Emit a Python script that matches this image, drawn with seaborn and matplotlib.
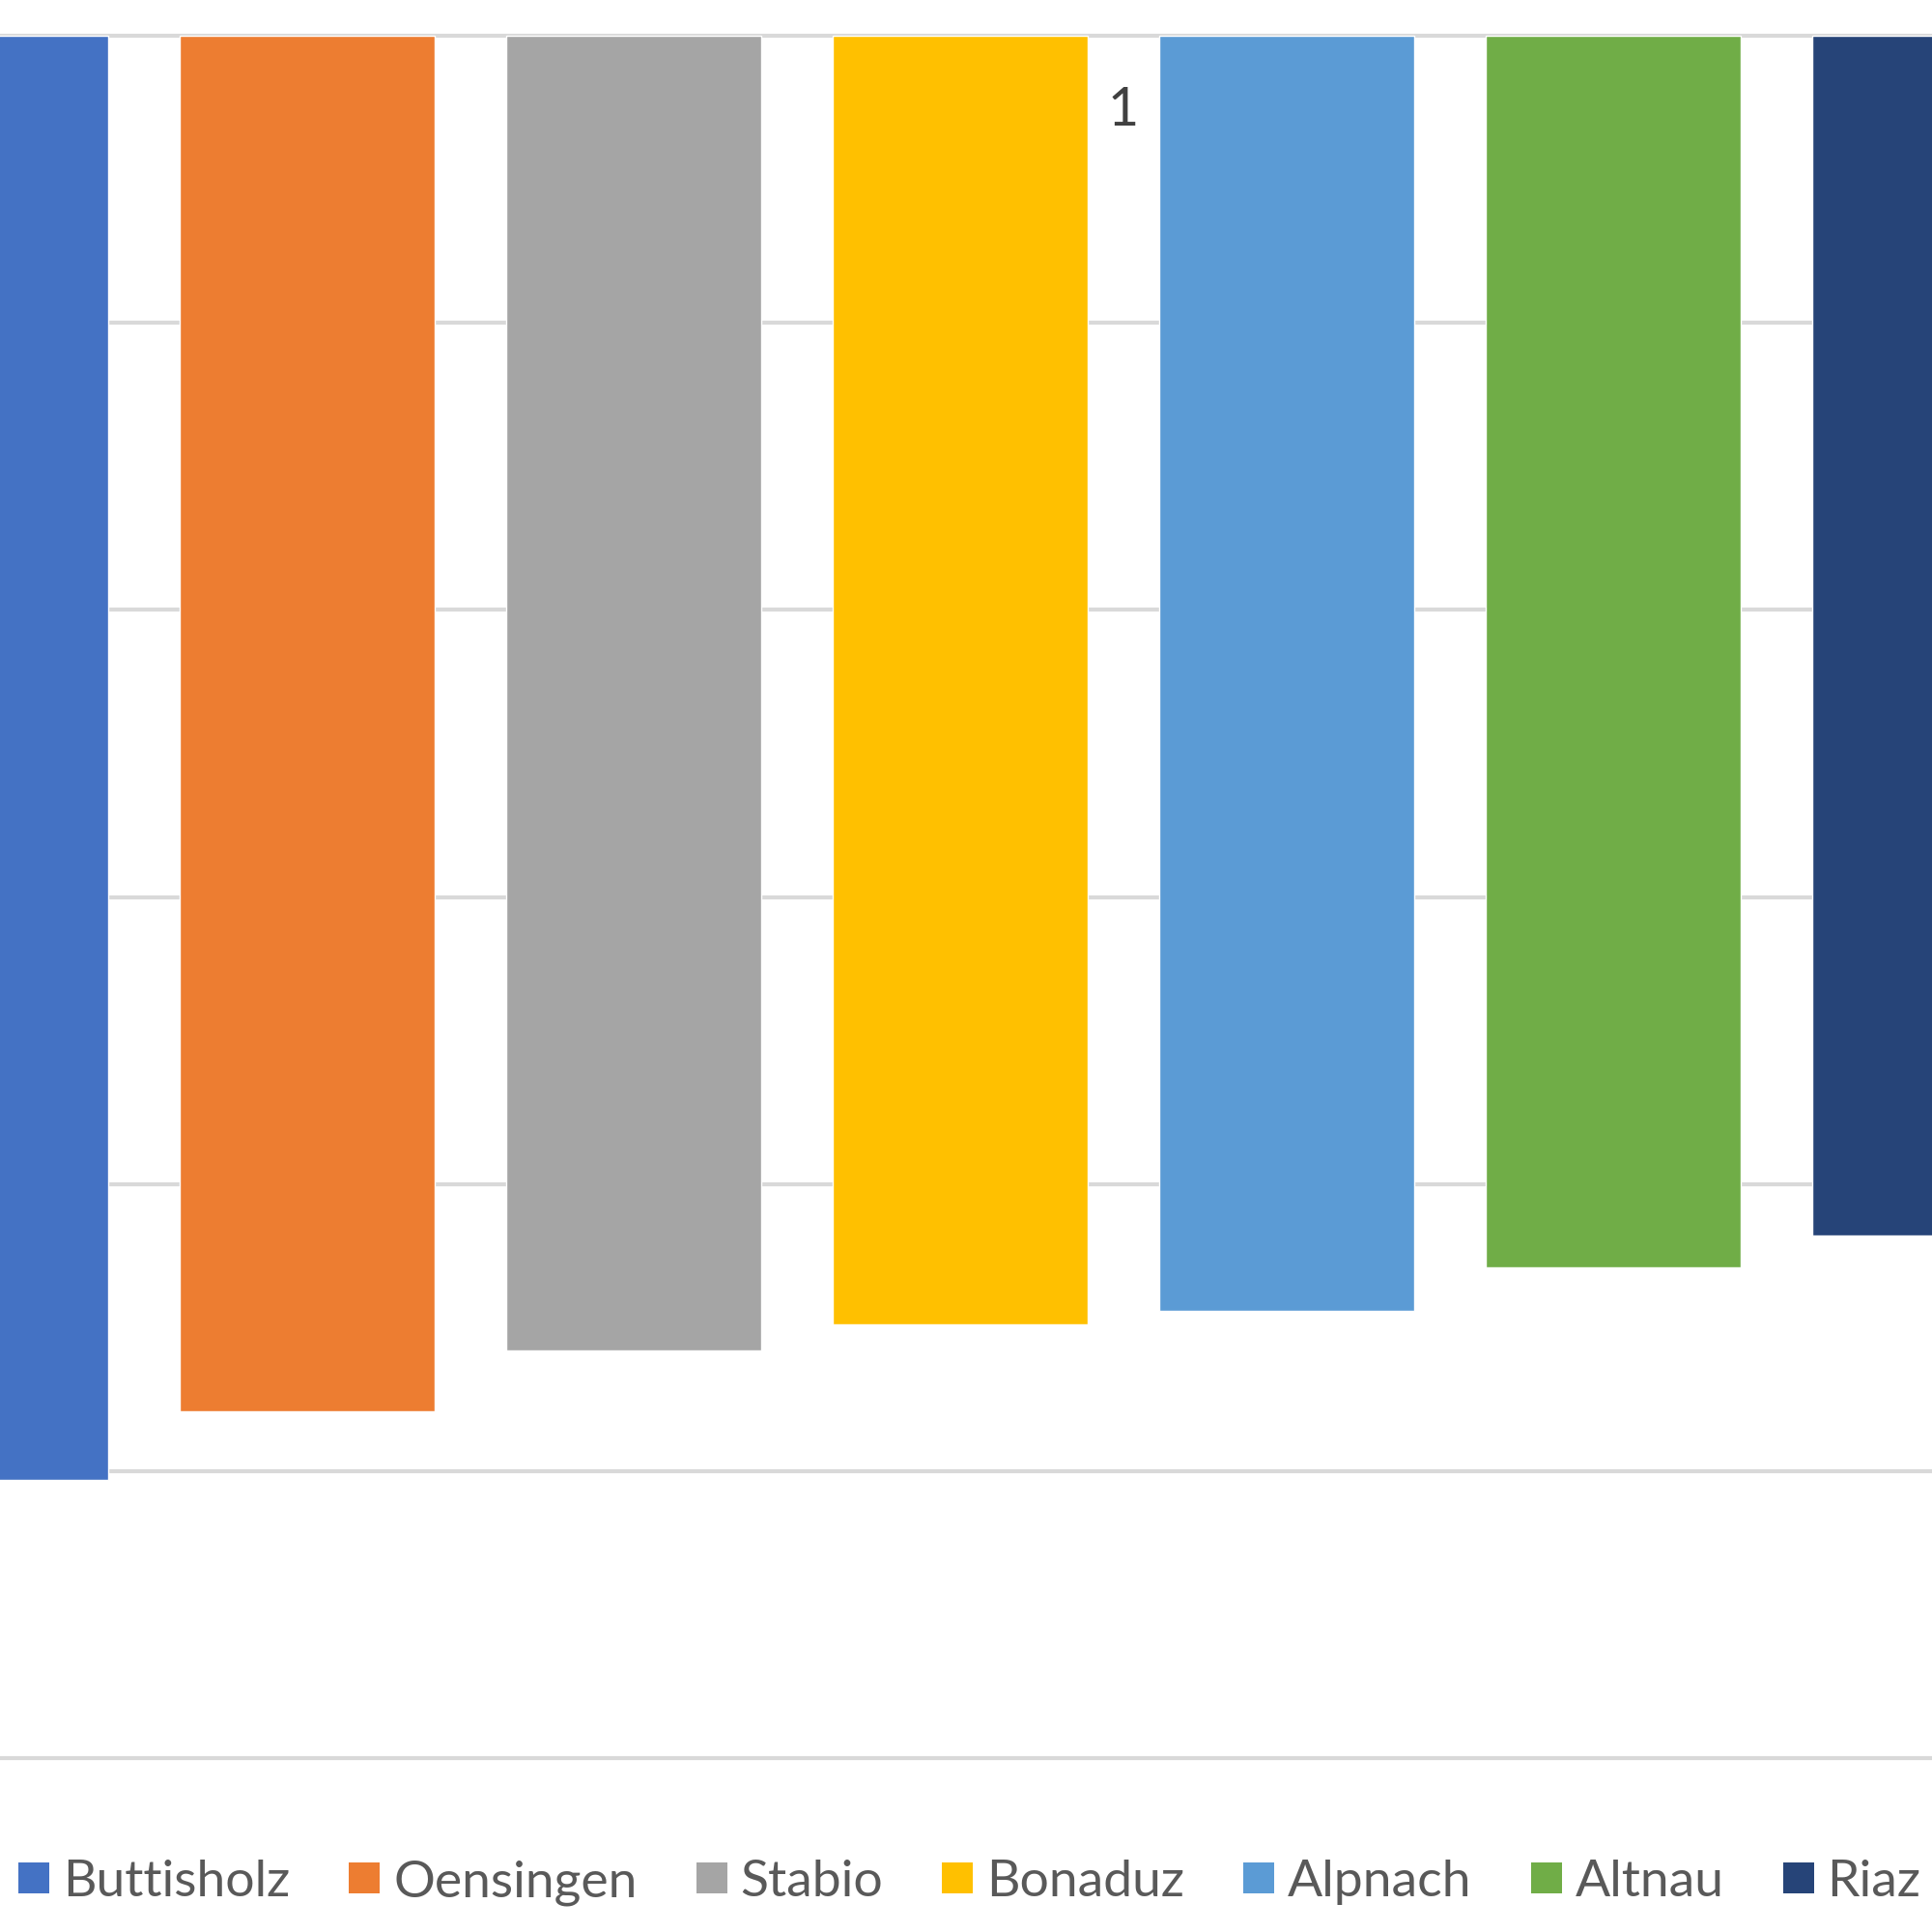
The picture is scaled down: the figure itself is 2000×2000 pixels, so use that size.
import matplotlib
matplotlib.use("Agg")
import matplotlib.pyplot as plt
from matplotlib.patches import Patch
import seaborn as sns
import pandas as pd

# Daten (Balken hängen von der Nulllinie nach unten)
orte = ["Buttisholz", "Oensingen", "Stabio", "Bonaduz", "Alpnach", "Altnau", "Riaz"]
werte = [-5.03, -4.79, -4.58, -4.49, -4.44, -4.29, -4.18]
farben = ["#4472C4", "#ED7D31", "#A5A5A5", "#FFC000", "#5B9BD5", "#70AD47", "#264478"]
label_text = "1"

df = pd.DataFrame({"ort": orte, "wert": werte})

sns.set_style("white")
plt.rcParams['font.family'] = ['Lato', 'DejaVu Sans']

fig = plt.figure(figsize=(20, 20), dpi=100)
ax = fig.add_axes([0, 0.06, 1, 0.94])

sns.barplot(data=df, x="ort", y="wert", hue="ort", palette=farben, width=0.781,
            legend=False, ax=ax, saturation=1)

ax.set_xlim(0.06, 5.977)
ax.set_ylim(-6.201, 0.1245)
ax.set_yticks(range(-6, 1))
ax.yaxis.grid(True, color="#d9d9d9", linewidth=3)
ax.set_axisbelow(True)
for s in ax.spines.values():
    s.set_visible(False)
ax.tick_params(left=False, bottom=False, labelleft=False, labelbottom=False)
ax.set_xlabel("")
ax.set_ylabel("")

ax.text(3.50, -0.262, label_text, fontsize=40, color="#404040", ha="center", va="center")

# Legende unten
handles = [Patch(facecolor=c, edgecolor="none") for c in farben]
fig.legend(handles, orte, loc="center left", bbox_to_anchor=(0.0095, 0.0255), ncol=7,
           frameon=False, fontsize=38.5, labelcolor="#595959",
           handlelength=0.6, handleheight=0.54, handletextpad=0.26,
           columnspacing=1.14, borderpad=0, borderaxespad=0)

plt.savefig("out.png", dpi=100)
